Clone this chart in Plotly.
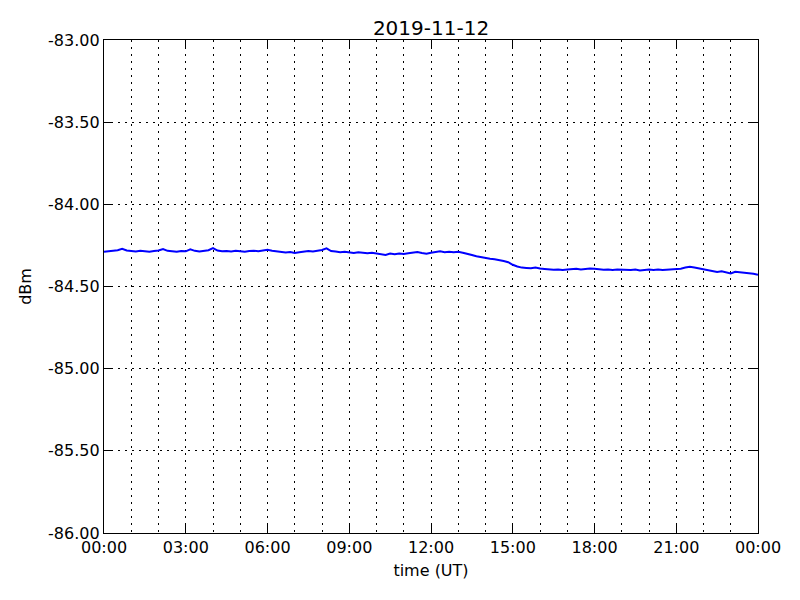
import pandas as pd
import plotly.graph_objects as go

title_text = "2019-11-12"
x_label = "time (UT)"
y_label = "dBm"

# 10-minute samples from 2019-11-12 00:00 to 2019-11-13 00:00
times = pd.date_range("2019-11-12 00:00", "2019-11-13 00:00", freq="10min")

dbm = [
    -84.288, -84.286, -84.283, -84.279, -84.270, -84.281,
    -84.284, -84.287, -84.283, -84.285, -84.288, -84.284,
    -84.281, -84.272, -84.283, -84.286, -84.289, -84.284,
    -84.286, -84.274, -84.283, -84.287, -84.285, -84.279,
    -84.266, -84.281, -84.286, -84.284, -84.287, -84.283,
    -84.285, -84.288, -84.284, -84.282, -84.286, -84.283,
    -84.276, -84.283, -84.286, -84.289, -84.293, -84.290,
    -84.296, -84.292, -84.289, -84.284, -84.287, -84.283,
    -84.278, -84.268, -84.284, -84.287, -84.291, -84.289,
    -84.293, -84.296, -84.292, -84.295, -84.297, -84.294,
    -84.298, -84.301, -84.308, -84.300, -84.303, -84.299,
    -84.302, -84.298, -84.295, -84.290, -84.296, -84.300,
    -84.294, -84.290, -84.286, -84.291, -84.288, -84.292,
    -84.289, -84.295, -84.300, -84.308, -84.316, -84.322,
    -84.326, -84.331, -84.334, -84.338, -84.345, -84.352,
    -84.368, -84.378, -84.385, -84.387, -84.389, -84.384,
    -84.391, -84.393, -84.396, -84.398, -84.396, -84.399,
    -84.397, -84.394, -84.392, -84.396, -84.393, -84.390,
    -84.392, -84.397, -84.398, -84.396, -84.399, -84.397,
    -84.398, -84.401, -84.399, -84.397, -84.403, -84.400,
    -84.397, -84.399, -84.396, -84.400, -84.398, -84.396,
    -84.398, -84.392, -84.385, -84.380, -84.384, -84.390,
    -84.395, -84.402, -84.405, -84.412, -84.408, -84.416,
    -84.421, -84.410, -84.412, -84.415, -84.418, -84.422,
    -84.428,
]

y_tick_vals = [-86.0, -85.5, -85.0, -84.5, -84.0, -83.5, -83.0]
y_tick_text = ["-86.00", "-85.50", "-85.00", "-84.50", "-84.00", "-83.50", "-83.00"]

font = dict(family="DejaVu Sans", size=16, color="black")
grid_dash = "2px,5px"

fig = go.Figure()
fig.add_trace(go.Scatter(
    x=times, y=dbm, mode="lines",
    line=dict(color="#0000ff", width=2),
    showlegend=False,
))

L, R, T, B = 96, 50, 32, 75

fig.update_layout(
    width=800, height=600,
    margin=dict(l=L, r=R, t=T, b=B),
    paper_bgcolor="white", plot_bgcolor="white",
    font=font,
    title=dict(text=title_text, x=(L + (800 - R)) / 2 / 800, xanchor="center",
               y=1 - 20 / 600, yanchor="middle",
               font=dict(family="DejaVu Sans", size=20, color="black")),
)

fig.update_xaxes(
    range=["2019-11-12 00:00", "2019-11-13 00:00"],
    tickformat="%H:%M",
    dtick=3 * 3600 * 1000,
    tick0="2019-11-12 00:00",
    ticks="inside", ticklen=8, tickcolor="black",
    showline=True, linecolor="black", linewidth=1.3, mirror="allticks",
    showgrid=True, gridcolor="black", gridwidth=1, griddash=grid_dash,
    minor=dict(dtick=3600 * 1000, tick0="2019-11-12 00:00", showgrid=True,
               gridcolor="black", gridwidth=1, griddash=grid_dash),
    zeroline=False,
    title=dict(text=x_label, standoff=8, font=dict(family="DejaVu Sans", size=16, color="black")),
    tickfont=font,
)

fig.update_yaxes(
    range=[-86, -83],
    tickvals=y_tick_vals, ticktext=y_tick_text,
    ticks="inside", ticklen=8, tickcolor="black",
    showline=True, linecolor="black", linewidth=1.3, mirror="allticks",
    showgrid=True, gridcolor="black", gridwidth=1, griddash=grid_dash,
    zeroline=False,
    title=dict(text=y_label, standoff=12, font=dict(family="DejaVu Sans", size=16, color="black")),
    tickfont=font,
)

fig.write_html("out.html")
